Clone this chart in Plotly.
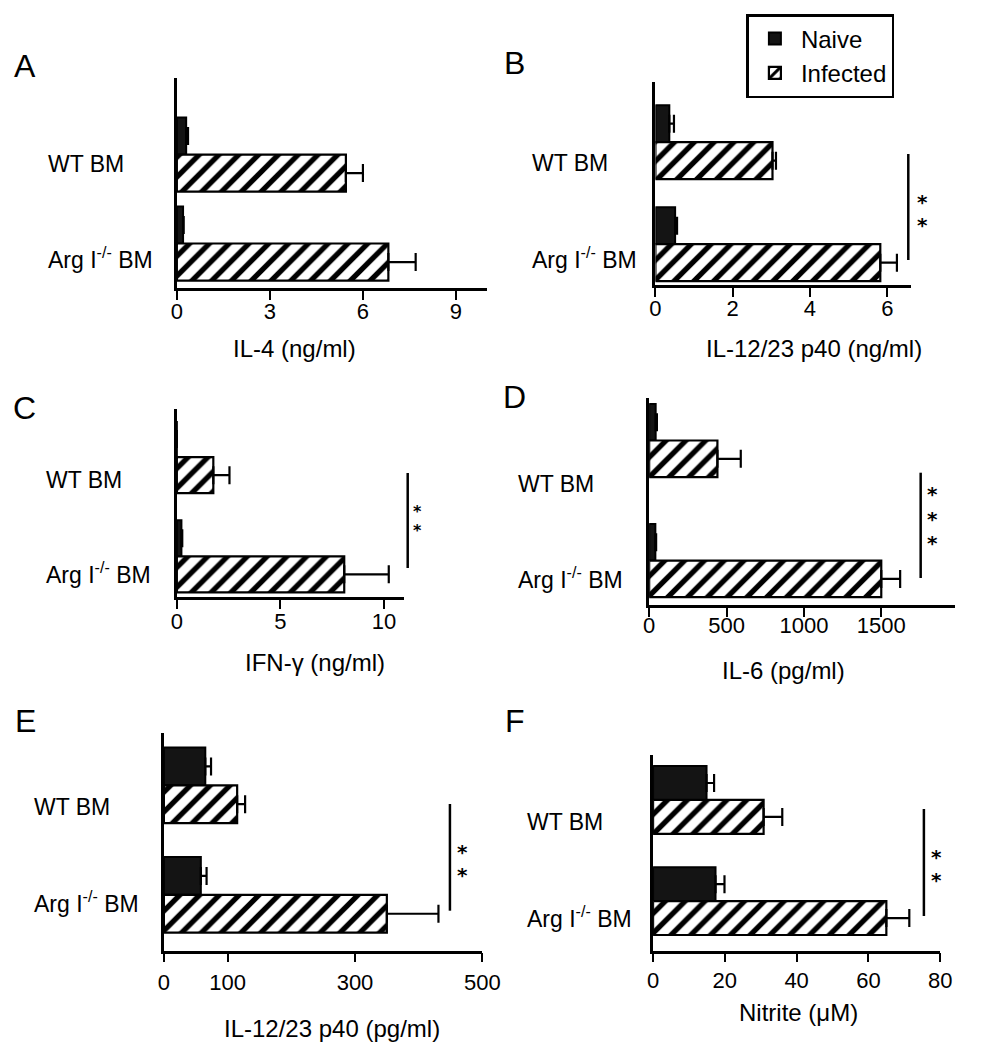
import plotly.graph_objects as go

# page body has an 8px margin, so the figure is sized to fit the window
OFF = 8
W, H = 985 - 2 * OFF, 1050 - 2 * OFF
FONT = "Liberation Sans, Arial, Helvetica, sans-serif"
STAR_FONT = "DejaVu Sans, sans-serif"

# ---------------- data ----------------
groups = ["WT BM", "Arg I<sup>-/-</sup> BM"]
series_names = ["Naive", "Infected"]

panel_letters = ["A", "B", "C", "D", "E", "F"]
axis_titles = ["IL-4 (ng/ml)", "IL-12/23 p40 (ng/ml)", "IFN-γ (ng/ml)",
               "IL-6 (pg/ml)", "IL-12/23 p40 (pg/ml)", "Nitrite (μM)"]

naive_A = [0.30, 0.20];   naive_err_A = [0.06, 0.02]
inf_A = [5.45, 6.82];     inf_err_A = [0.55, 0.88]

naive_B = [0.36, 0.51];   naive_err_B = [0.12, 0.05]
inf_B = [3.03, 5.82];     inf_err_B = [0.09, 0.43]

naive_C = [0.0, 0.22];    naive_err_C = [0.0, 0.04]
inf_C = [1.76, 8.08];     inf_err_C = [0.78, 2.15]

naive_D = [42, 40];       naive_err_D = [8, 5]
inf_D = [441, 1500];      inf_err_D = [151, 122]

naive_E = [65, 58];       naive_err_E = [9, 9]
inf_E = [115, 350];       inf_err_E = [12.5, 81]

naive_F = [14.9, 17.4];   naive_err_F = [2.1, 2.5]
inf_F = [30.8, 65.0];     inf_err_F = [5.2, 6.4]

ticks_A = [0, 3, 6, 9]
ticks_B = [0, 2, 4, 6]
ticks_C = [0, 5, 10]
ticks_D = [0, 500, 1000, 1500]
ticks_E = [0, 100, 300, 500]
ticks_F = [0, 20, 40, 60, 80]

xmax = [10, 6.62, 10.97, 1979, 500, 80]
stars = ["", "**", "**", "***", "**", "**"]

naive_all = [naive_A, naive_B, naive_C, naive_D, naive_E, naive_F]
naive_err_all = [naive_err_A, naive_err_B, naive_err_C, naive_err_D, naive_err_E, naive_err_F]
inf_all = [inf_A, inf_B, inf_C, inf_D, inf_E, inf_F]
inf_err_all = [inf_err_A, inf_err_B, inf_err_C, inf_err_D, inf_err_E, inf_err_F]
ticks_all = [ticks_A, ticks_B, ticks_C, ticks_D, ticks_E, ticks_F]

# ---------------- layout geometry (window pixels) ----------------
xdom_px = [(175, 493), (665.7, 928), (175, 408), (659.3, 973.3), (161.7, 488.3), (663.3, 957.7)]
ydom_px = [(78, 288), (82, 285), (409, 597), (398, 605), (732.7, 950.7), (755, 950.7)]
ytop = [0.86, 0.59, 0.485, 0.354, 0.48, 0.444]
ybot = [0.50, 0.40, 0.41, 0.37, 0.51, 0.49]
barw = [0.4165, 0.3625, 0.3635, 0.305, 0.345, 0.335]

letter_px = [(19, 66), (521, 63), (19, 408), (521, 397), (20, 721), (522, 721)]
title_px = [(296, 348), (828, 348), (317, 662), (797, 670), (334, 1028), (812, 1012)]
label_px = [((41, 164), (41, 258)), ((537, 163), (537, 258)), ((39, 480), (39, 573)),
            ((523, 484), (523, 578)), ((26, 807), (26, 902)), ((532, 822), (532, 917))]
# sig line: x, y_top, y_bottom, star x, star y list, star font size
sig_px = [None,
          (925, 154, 260, 940, [197, 220], 20),
          (411.7, 473, 568, 421.7, [508, 527], 16),
          (937.7, 472.7, 578, 950, [489, 514, 538], 20),
          (455, 804, 910.7, 468, [847, 870], 20),
          (941, 809, 916, 954, [852, 875], 20)]
standoff = [-7, -7, -6, -10, 1, -1]


def px(x):
    return (x - OFF) / W


def py(y):
    return 1 - (y - OFF) / H


fig = go.Figure()
layout = {}
annotations = []
shapes = []

for i in range(6):
    n = i + 1
    xa = "x" if n == 1 else f"x{n}"
    ya = "y" if n == 1 else f"y{n}"
    w = barw[i]
    ypos = list(range(len(groups)))
    fig.add_trace(go.Bar(
        x=naive_all[i], y=ypos, orientation="h", name=series_names[0],
        xaxis=xa, yaxis=ya, width=w, offset=-w, textposition="none",
        marker=dict(color="#141414", line=dict(color="black", width=2)),
        error_x=dict(type="data", symmetric=False, array=naive_err_all[i],
                     arrayminus=[0] * len(groups), color="black", thickness=2.2, width=9),
        showlegend=(i == 0), legendgroup="naive",
    ))
    fig.add_trace(go.Bar(
        x=inf_all[i], y=ypos, orientation="h", name=series_names[1],
        xaxis=xa, yaxis=ya, width=w, offset=0, textposition="none",
        marker=dict(color="white", line=dict(color="black", width=2.2),
                    pattern=dict(shape="/", fgcolor="black", bgcolor="white",
                                 fgopacity=1, size=14, solidity=0.38, fillmode="replace")),
        error_x=dict(type="data", symmetric=False, array=inf_err_all[i],
                     arrayminus=[0] * len(groups), color="black", thickness=2.2, width=9),
        showlegend=(i == 0), legendgroup="infected",
    ))

    xk = "xaxis" if n == 1 else f"xaxis{n}"
    yk = "yaxis" if n == 1 else f"yaxis{n}"
    layout[xk] = dict(
        domain=[px(xdom_px[i][0]), px(xdom_px[i][1])], anchor=ya,
        range=[0, xmax[i]], tickvals=ticks_all[i],
        showline=True, linecolor="black", linewidth=2.5,
        ticks="outside", ticklen=9, tickwidth=2, tickcolor="black",
        tickfont=dict(size=22, color="black", family=FONT),
        ticklabelstandoff=standoff[i],
        showgrid=False, zeroline=False, fixedrange=True,
    )
    layout[yk] = dict(
        domain=[py(ydom_px[i][1]), py(ydom_px[i][0])], anchor=xa,
        range=[len(groups) - 1 + ybot[i], -ytop[i]],
        showline=True, linecolor="black", linewidth=2.5,
        ticks="", showticklabels=False,
        showgrid=False, zeroline=False, fixedrange=True,
    )

    annotations.append(dict(text=panel_letters[i], x=px(letter_px[i][0]), y=py(letter_px[i][1]),
                            xref="paper", yref="paper", showarrow=False,
                            xanchor="center", yanchor="middle",
                            font=dict(size=32, color="black", family=FONT)))
    annotations.append(dict(text=axis_titles[i], x=px(title_px[i][0]), y=py(title_px[i][1]),
                            xref="paper", yref="paper", showarrow=False,
                            xanchor="center", yanchor="middle",
                            font=dict(size=24, color="black", family=FONT)))
    for g, (lx, ly) in zip(groups, label_px[i]):
        annotations.append(dict(text=g, x=px(lx), y=py(ly), xref="paper", yref="paper",
                                showarrow=False, xanchor="left", yanchor="middle",
                                font=dict(size=23, color="black", family=FONT)))
    if sig_px[i] is not None:
        sx, sy0, sy1, stx, sty, fs = sig_px[i]
        shapes.append(dict(type="line", xref="paper", yref="paper",
                           x0=px(sx), x1=px(sx), y0=py(sy0), y1=py(sy1),
                           line=dict(color="black", width=2.5)))
        for k, yy in enumerate(sty[:len(stars[i])]):
            annotations.append(dict(text="*", x=px(stx), y=py(yy), xref="paper", yref="paper",
                                    showarrow=False, xanchor="center", yanchor="middle",
                                    yshift=-0.24 * fs, borderpad=0,
                                    font=dict(size=fs, color="black", family=STAR_FONT,
                                              weight="bold")))

fig.update_layout(
    width=W, height=H,
    margin=dict(l=0, r=0, t=0, b=0),
    paper_bgcolor="white", plot_bgcolor="white",
    barmode="overlay",
    font=dict(family=FONT, color="black"),
    showlegend=True,
    legend=dict(x=px(759), y=py(14), xanchor="left", yanchor="top",
                bordercolor="black", borderwidth=2.5, bgcolor="white",
                font=dict(size=24, color="black", family=FONT),
                itemwidth=42, tracegroupgap=8,
                traceorder="normal", itemclick=False, itemdoubleclick=False),
    annotations=annotations,
    shapes=shapes,
    **layout,
)

fig.write_html("out.html")
